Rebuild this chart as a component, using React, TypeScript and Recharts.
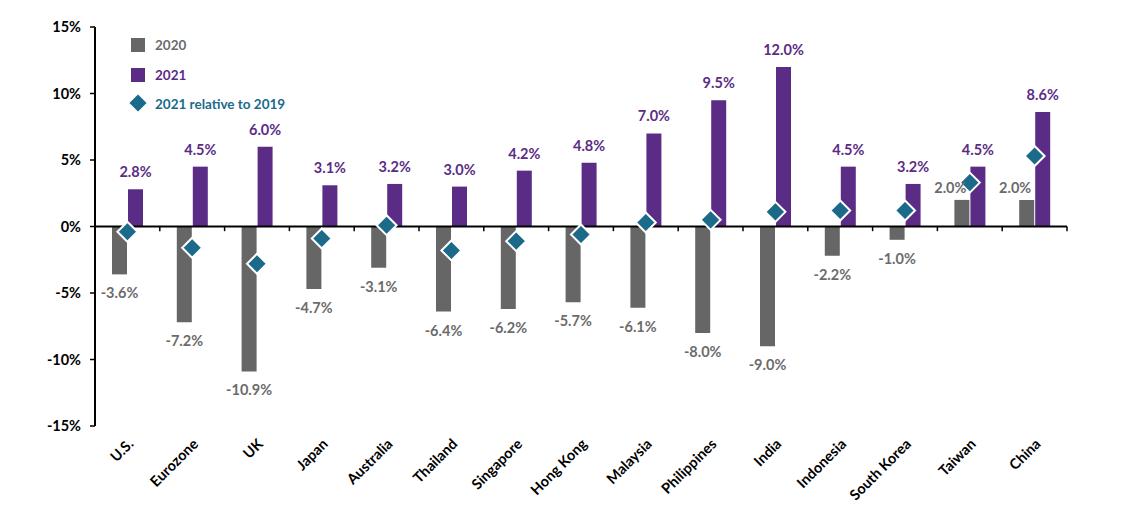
import { ComposedChart, Bar, Scatter, XAxis, YAxis, ReferenceLine, Legend, LabelList } from 'recharts';

const countries = ['U.S.', 'Eurozone', 'UK', 'Japan', 'Australia', 'Thailand', 'Singapore', 'Hong Kong', 'Malaysia', 'Philippines', 'India', 'Indonesia', 'South Korea', 'Taiwan', 'China'];
const growth2020 = [-3.6, -7.2, -10.9, -4.7, -3.1, -6.4, -6.2, -5.7, -6.1, -8.0, -9.0, -2.2, -1.0, 2.0, 2.0];
const growth2021 = [2.8, 4.5, 6.0, 3.1, 3.2, 3.0, 4.2, 4.8, 7.0, 9.5, 12.0, 4.5, 3.2, 4.5, 8.6];
const relativeTo2019 = [-0.4, -1.6, -2.8, -0.9, 0.1, -1.8, -1.1, -0.6, 0.3, 0.5, 1.1, 1.2, 1.2, 3.3, 5.3];
const yTicks = [-15, -10, -5, 0, 5, 10, 15];

const data = countries.map((country, i) => ({
  country,
  y2020: growth2020[i],
  y2021: growth2021[i],
  rel: relativeTo2019[i],
}));

const GRAY = '#666666';
const GRAY_TEXT = '#6b6b6b';
const PURPLE = '#5b2c86';
const TEAL = '#1b6a8a';
const FONT = 'Lato, "Open Sans", sans-serif';

// label for 2021 bars, above the bar
function Label2021(props: any) {
  const { x, y, width, height, value } = props;
  const top = Math.min(y, y + height);
  return (
    <text x={x + width / 2} y={top - 12} textAnchor="middle" fill={PURPLE} fontSize={14.5} fontWeight={700} fontFamily={FONT}>
      {Number(value).toFixed(1)}%
    </text>
  );
}

// label for 2020 bars: below negatives, upper-left of positives
function Label2020(props: any) {
  const { x, y, width, height, value } = props;
  const v = Number(value);
  if (v >= 0) {
    const top = Math.min(y, y + height);
    return (
      <text x={x + width - 3} y={top - 7} textAnchor="end" fill={GRAY_TEXT} fontSize={14.5} fontWeight={700} fontFamily={FONT}>
        {v.toFixed(1)}%
      </text>
    );
  }
  const bottom = Math.max(y, y + height);
  return (
    <text x={x + width / 2} y={bottom + 24} textAnchor="middle" fill={GRAY_TEXT} fontSize={14.5} fontWeight={700} fontFamily={FONT}>
      {v.toFixed(1)}%
    </text>
  );
}

function Diamond(props: any) {
  const { cx, cy } = props;
  const r = 10;
  return (
    <polygon
      points={`${cx},${cy - r} ${cx + r},${cy} ${cx},${cy + r} ${cx - r},${cy}`}
      fill={TEAL}
      stroke="#fff"
      strokeWidth={2}
    />
  );
}

function CountryTick(props: any) {
  const { x, y, payload } = props;
  const ax = x - 1;
  const ay = y + 3;
  return (
    <text x={ax} y={ay} transform={`rotate(-45 ${ax} ${ay})`} textAnchor="end" dominantBaseline="hanging" fill="#000" fontSize={14.5} fontWeight={700} fontFamily={FONT}>
      {payload.value}
    </text>
  );
}

function LegendBox() {
  return (
    <svg width={200} height={90} style={{ display: 'block' }}>
      <rect x={11} y={8} width={14} height={14} fill={GRAY} />
      <text x={35} y={15} dominantBaseline="central" fill={GRAY_TEXT} fontSize={13.5} fontWeight={700} fontFamily={FONT}>2020</text>
      <rect x={11} y={38} width={14} height={14} fill={PURPLE} />
      <text x={35} y={45} dominantBaseline="central" fill={PURPLE} fontSize={13.5} fontWeight={700} fontFamily={FONT}>2021</text>
      <polygon points="18,63 28,73 18,83 8,73" fill={TEAL} stroke="#fff" strokeWidth={2} />
      <text x={35} y={74} dominantBaseline="central" fill={TEAL} fontSize={13.5} fontWeight={700} fontFamily={FONT}>2021 relative to 2019</text>
    </svg>
  );
}

export default function App() {
  return (
    <div style={{ position: 'absolute', left: 0, top: 0, width: 1140, height: 511, background: '#fff' }}>
      <ComposedChart width={1140} height={511} data={data} margin={{ top: 27, right: 73, bottom: 0, left: 0 }} barGap={1} barSize={15}>
        <XAxis dataKey="country" height={85} axisLine={false} tickLine={false} interval={0} tick={<CountryTick />} />
        <YAxis
          domain={[-15, 15]}
          ticks={yTicks}
          width={95}
          tickFormatter={(v: number) => `${v}%`}
          axisLine={{ stroke: '#000', strokeWidth: 2 }}
          tickLine={{ stroke: '#000', strokeWidth: 1.5 }}
          tickSize={5}
          tickMargin={9}
          tick={{ fill: '#000', fontSize: 14.5, fontWeight: 700, fontFamily: FONT }}
        />
        <Legend layout="vertical" align="center" verticalAlign="middle" wrapperStyle={{ left: 120, top: 30, width: 200 }} content={() => <LegendBox />} />
        <Bar dataKey="y2020" name="2020" fill={GRAY} isAnimationActive={false}>
          <LabelList dataKey="y2020" content={<Label2020 />} />
        </Bar>
        <Bar dataKey="y2021" name="2021" fill={PURPLE} isAnimationActive={false}>
          <LabelList dataKey="y2021" content={<Label2021 />} />
        </Bar>
        <ReferenceLine y={0} stroke="#000" strokeWidth={2} />
        {countries.map((c) => (
          <ReferenceLine
            key={c}
            position="end"
            segment={[{ x: c, y: 0 }, { x: c, y: -0.35 }]}
            stroke="#000"
            strokeWidth={1.5}
            ifOverflow="visible"
          />
        ))}
        <Scatter dataKey="rel" name="2021 relative to 2019" shape={<Diamond />} isAnimationActive={false} />
      </ComposedChart>
    </div>
  );
}
